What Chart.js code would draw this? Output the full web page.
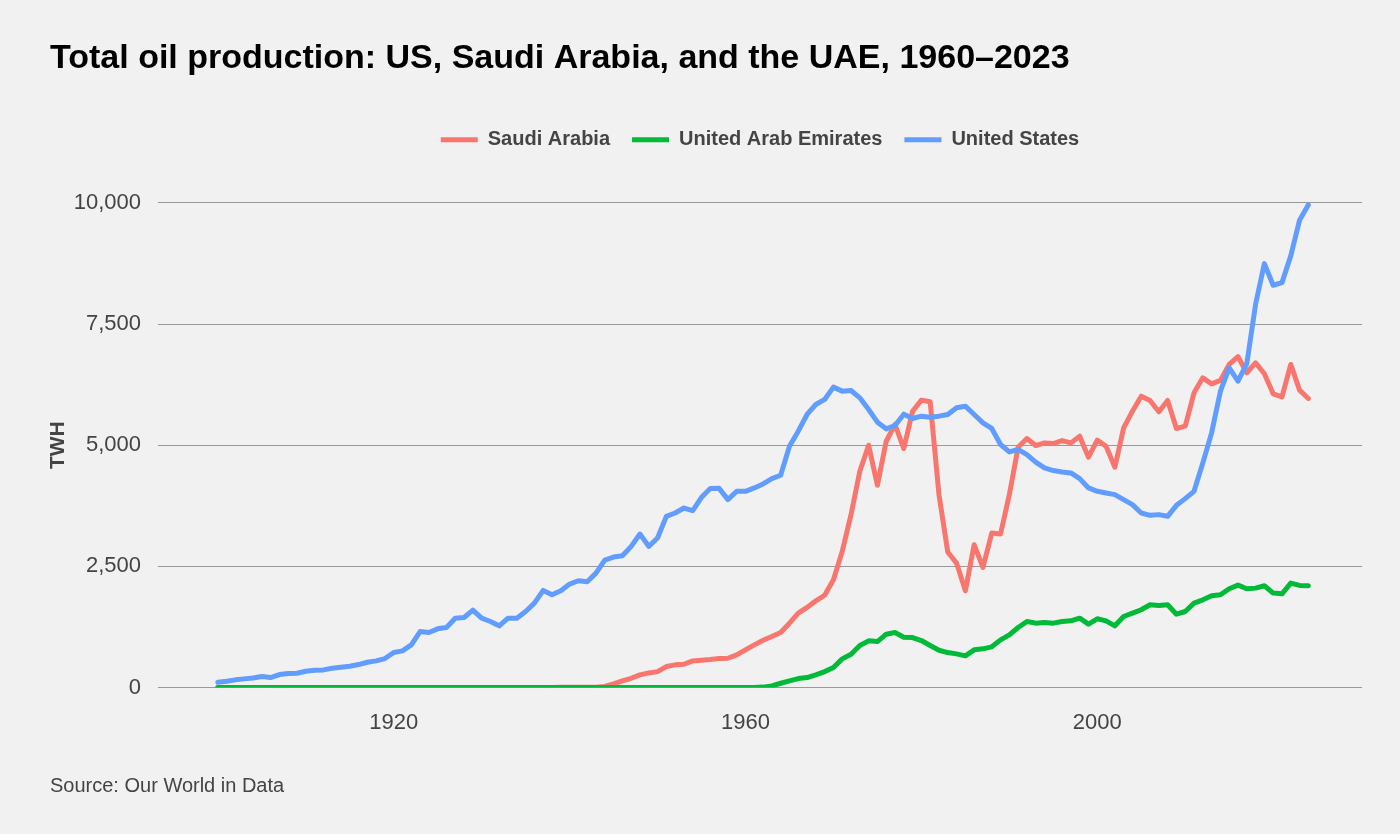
<!DOCTYPE html>
<html>
<head>
<meta charset="utf-8">
<title>Total oil production: US, Saudi Arabia, and the UAE</title>
<script src="https://cdn.jsdelivr.net/npm/chart.js@4.4.1/dist/chart.umd.min.js"></script>
<style>
    html, body { margin: 0; padding: 0; background: #f1f1f1; }
    #wrap { width: 1400px; height: 834px; }
</style>
</head>
<body>
<div id="wrap"><canvas id="oilChart" width="1400" height="834"></canvas></div>
<script>
// Years on the x axis (one point per year)
const firstYear = 1900;
const lastYear = 2024;
const years = [];
for (let y = firstYear; y <= lastYear; y++) years.push(y);

const xTickYears = [1920, 1960, 2000];

// Oil production, TWh, 1900-2024
const saudiArabia = [
    0, 0, 0, 0, 0, 0, 0, 0, 0, 0,
    0, 0, 0, 0, 0, 0, 0, 0, 0, 0,
    0, 0, 0, 0, 0, 0, 0, 0, 0, 0,
    0, 0, 0, 0, 0, 0, 0, 0, 1, 7,
    8, 7, 7, 8, 25, 76, 138, 192, 262, 303,
    330, 434, 469, 482, 551, 565, 578, 600, 606, 675,
    779, 882, 978, 1054, 1136, 1329, 1535, 1653, 1790, 1905,
    2225, 2810, 3568, 4462, 5000, 4173, 5082, 5427, 4931, 5700,
    5929, 5895, 3981, 2796, 2568, 1997, 2947, 2479, 3188, 3168,
    3981, 4958, 5138, 4993, 5048, 5034, 5096, 5048, 5186, 4752,
    5105, 4979, 4545, 5357, 5702, 6012, 5923, 5688, 5923, 5345,
    5392, 6080, 6390, 6266, 6336, 6666, 6825, 6494, 6700, 6473,
    6060, 5998, 6666, 6136, 5964
];

const unitedArabEmirates = [
    0, 0, 0, 0, 0, 0, 0, 0, 0, 0,
    0, 0, 0, 0, 0, 0, 0, 0, 0, 0,
    0, 0, 0, 0, 0, 0, 0, 0, 0, 0,
    0, 0, 0, 0, 0, 0, 0, 0, 0, 0,
    0, 0, 0, 0, 0, 0, 0, 0, 0, 0,
    0, 0, 0, 0, 0, 0, 0, 0, 0, 0,
    0, 0, 10, 35, 90, 138, 186, 207, 262, 330,
    413, 592, 688, 868, 964, 950, 1102, 1136, 1040, 1033,
    971, 868, 771, 723, 696, 655, 779, 800, 841, 985,
    1088, 1240, 1364, 1329, 1343, 1329, 1364, 1377, 1432, 1308,
    1419, 1377, 1274, 1467, 1535, 1605, 1708, 1694, 1708, 1514,
    1570, 1742, 1811, 1894, 1915, 2039, 2114, 2039, 2052, 2101,
    1949, 1935, 2155, 2108, 2101
];

const unitedStates = [
    110, 130, 160, 180, 200, 227, 207, 268, 289, 296,
    337, 358, 365, 399, 420, 441, 475, 523, 551, 599,
    723, 758, 882, 1157, 1136, 1212, 1240, 1432, 1446, 1597,
    1432, 1364, 1274, 1432, 1432, 1570, 1742, 2004, 1915, 1997,
    2135, 2204, 2183, 2361, 2630, 2692, 2720, 2913, 3168, 2913,
    3085, 3533, 3601, 3704, 3650, 3925, 4105, 4110, 3878, 4049,
    4049, 4118, 4200, 4311, 4380, 4979, 5289, 5634, 5840, 5944,
    6198, 6115, 6129, 5977, 5737, 5475, 5337, 5406, 5640, 5551,
    5599, 5578, 5599, 5634, 5771, 5805, 5634, 5461, 5345, 5014,
    4861, 4911, 4807, 4649, 4531, 4477, 4449, 4428, 4311, 4118,
    4049, 4014, 3981, 3878, 3774, 3601, 3553, 3568, 3533, 3760,
    3898, 4049, 4634, 5254, 6115, 6597, 6322, 6680, 7906, 8746,
    8299, 8354, 8905, 9642, 9958
];

const FONT = "'Liberation Sans', Arial, Helvetica, sans-serif";
const TEXT_COLOR = '#444444';
const LEGEND_GAP = 43; // extra space between legend and plot

function toPoints(values) {
    return values.map((v, i) => ({ x: years[i], y: v }));
}

// Push the plot area down a bit below the legend
const legendGap = {
    id: 'legendGap',
    beforeLayout(chart) {
        const legend = chart.legend;
        if (!legend || legend._gapPatched) return;
        const fit = legend.fit;
        legend.fit = function () {
            fit.call(this);
            this.height += LEGEND_GAP;
        };
        legend._gapPatched = true;
    }
};

// order: lower value is drawn on top, so the later series sit above the earlier ones
function makeDataset(label, values, color, order) {
    return {
        label: label,
        data: toPoints(values),
        borderColor: color,
        backgroundColor: color,
        borderWidth: 5,
        pointRadius: 0,
        tension: 0,
        order: order,
        borderJoinStyle: 'round',
        borderCapStyle: 'round'
    };
}

const ctx = document.getElementById('oilChart');

new Chart(ctx, {
    type: 'line',
    data: {
        datasets: [
            makeDataset('Saudi Arabia', saudiArabia, '#F8766D', 2),
            makeDataset('United Arab Emirates', unitedArabEmirates, '#00BA38', 1),
            makeDataset('United States', unitedStates, '#619CFF', 0)
        ]
    },
    plugins: [legendGap],
    options: {
        responsive: false,
        devicePixelRatio: 1,
        animation: false,
        layout: {
            padding: { left: 50, right: 38, top: 0, bottom: 0 }
        },
        plugins: {
            title: {
                display: true,
                text: 'Total oil production: US, Saudi Arabia, and the UAE, 1960\u20132023',
                align: 'start',
                color: '#000000',
                font: { family: FONT, size: 34, weight: 'bold' },
                padding: { top: 38, bottom: 29 }
            },
            subtitle: {
                display: true,
                position: 'bottom',
                align: 'start',
                text: 'Source: Our World in Data',
                color: TEXT_COLOR,
                font: { family: FONT, size: 20, weight: 'normal' },
                padding: { top: 24, bottom: 36 }
            },
            legend: {
                position: 'top',
                fullSize: false,
                labels: {
                    boxWidth: 37,
                    boxHeight: 5,
                    padding: 22,
                    color: TEXT_COLOR,
                    font: { family: FONT, size: 20, weight: 'bold' },
                    sort: (a, b) => a.datasetIndex - b.datasetIndex,
                    generateLabels(chart) {
                        const items = Chart.defaults.plugins.legend.labels.generateLabels(chart);
                        return items.map(item => ({ ...item, lineWidth: 0, fillStyle: item.strokeStyle }));
                    }
                }
            },
            tooltip: { enabled: false }
        },
        scales: {
            x: {
                type: 'linear',
                min: 1893.2,
                max: 2030.1,
                afterBuildTicks: scale => {
                    scale.ticks = xTickYears.map(v => ({ value: v }));
                },
                grid: { display: false },
                border: { display: false },
                ticks: {
                    color: TEXT_COLOR,
                    font: { family: FONT, size: 22 },
                    padding: 14,
                    maxRotation: 0,
                    autoSkip: false,
                    callback: value => String(value)
                }
            },
            y: {
                min: 0,
                max: 10000,
                grid: { color: '#999999', lineWidth: 1, drawTicks: false },
                border: { display: false },
                ticks: {
                    stepSize: 2500,
                    color: TEXT_COLOR,
                    font: { family: FONT, size: 22 },
                    padding: 17
                },
                title: {
                    display: true,
                    text: 'TWH',
                    color: TEXT_COLOR,
                    font: { family: FONT, size: 21, weight: 'bold', lineHeight: 1 },
                    padding: { top: -2, bottom: 0 }
                },
                afterFit: scale => {
                    scale.width = 108;
                }
            }
        }
    }
});
</script>
</body>
</html>
